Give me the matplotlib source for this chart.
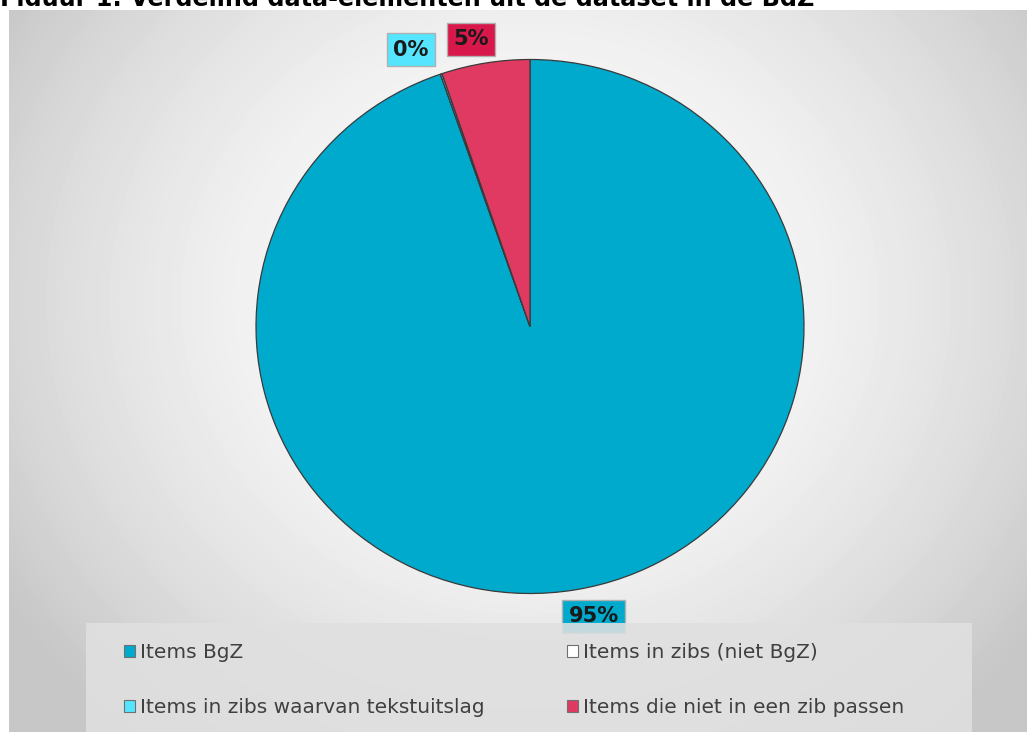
import numpy as np
import matplotlib.pyplot as plt
from matplotlib.patches import Patch, Rectangle

# data
labels = ['Items BgZ', 'Items in zibs (niet BgZ)',
          'Items in zibs waarvan tekstuitslag', 'Items die niet in een zib passen']
values = [94.7, 0.0, 0.1, 5.2]
pct_text = ['95%', '', '0%', '5%']
colors = ['#00aacc', '#ffffff', '#55e5ff', '#e03a62']
box_colors = ['#00aacc', '#ffffff', '#55e5ff', '#d8174a']
label_offsets = [(10, -3), (0, 0), (-16, 2), (-7, 1)]  # points

plt.rcParams['font.family'] = ['DejaVu Sans']

fig = plt.figure(figsize=(10.27, 7.32), dpi=100)
W, H = 1027, 732

# title, mostly cut off at the top like in the original
fig.text(0.0, 1 - 6 / H, 'Figuur 1: Verdeling data-elementen uit de dataset in de BgZ',
         fontsize=17.2, fontweight='bold', va='baseline', ha='left', color='black',
         zorder=0.5)
fig.patches.append(Rectangle((0, 0), 1, 1 - 6 / H, transform=fig.transFigure,
                             fc='white', ec='none', zorder=0.8))

# radial grey gradient background of the chart area
bg = fig.add_axes([9 / W, 0, 1 - 9 / W, (H - 10) / H])
bg.set_zorder(1)
yy, xx = np.mgrid[0:722, 0:1018]
d = np.sqrt(((xx - 521) / 620.0) ** 2 + ((yy - 290) / 560.0) ** 2)
shade = 1.0 - 0.22 * np.clip(d, 0, 1.0) ** 1.8
bg.imshow(shade, cmap='gray', vmin=0, vmax=1, aspect='auto', interpolation='bilinear')
bg.set_axis_off()

# pie (slightly wider than tall, as in the original)
cx, cy, rx, ry = 530, 326.5, 274, 267
ax = fig.add_axes([(cx - rx) / W, (H - cy - ry) / H, 2 * rx / W, 2 * ry / H])
ax.set_zorder(2)
wedges, _ = ax.pie(values, colors=colors, startangle=90, counterclock=False,
                   radius=1.0, wedgeprops=dict(edgecolor='#3a3a3a', linewidth=0.9))
ax.set_xlim(-1, 1)
ax.set_ylim(-1, 1)
ax.set_aspect('auto')
ax.axis('off')

for w, txt, bc, off in zip(wedges, pct_text, box_colors, label_offsets):
    if not txt:
        continue
    mid = np.deg2rad((w.theta1 + w.theta2) / 2)
    x, y = 1.095 * np.cos(mid), 1.085 * np.sin(mid)
    ax.annotate(txt, (x, y), xytext=off, textcoords='offset points',
                ha='center', va='center', fontsize=15, fontweight='bold',
                color='#1a1a1a', annotation_clip=False,
                bbox=dict(boxstyle='square,pad=0.3', fc=bc, ec='#b0b0b0', lw=1))

# legend panel
fig.patches.append(Rectangle((86 / W, 0), (972 - 86) / W, (H - 623) / H,
                             transform=fig.transFigure, fc='#e0e0e0', ec='none',
                             alpha=0.88, zorder=2.5))
handles = [Patch(fc=c, ec='#707070', lw=0.8) for c in colors]
for col, xpos in enumerate([124, 567]):
    idx = [col, col + 2]
    leg = fig.legend([handles[i] for i in idx], [labels[i] for i in idx],
                     loc='upper left', bbox_to_anchor=(xpos / W, 1 - 643 / H),
                     frameon=False, fontsize=14.5, labelcolor='#404040',
                     handlelength=0.55, handleheight=0.55, handletextpad=0.25,
                     labelspacing=1.8, borderpad=0, borderaxespad=0)
    leg.set_zorder(3)

fig.savefig('out.png', dpi=100)
